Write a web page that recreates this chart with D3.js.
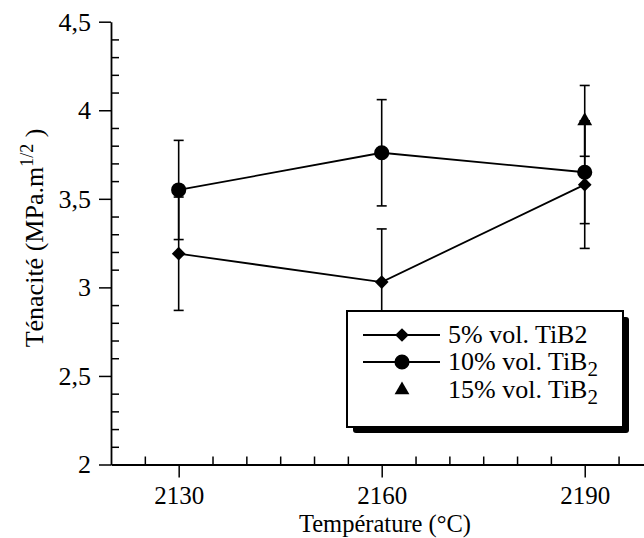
<!DOCTYPE html>
<html><head><meta charset="utf-8">
<script src="https://cdn.jsdelivr.net/npm/d3@7"></script>
<style>
html,body{margin:0;padding:0;background:#fff;}
svg, svg text{font-family:"Liberation Serif","Times New Roman",Times,serif !important;}
</style></head>
<body><svg id="c" width="644" height="538"></svg>
<script>
// ---- data ----
const temperatures = [2130, 2160, 2190];
const tic5 = [3.19, 3.03, 3.58];
const tic5Err = [0.32, 0.30, 0.36];
const tic10 = [3.55, 3.76, 3.65];
const tic10Err = [0.28, 0.30, 0.29];
const tic15Temp = [2190];
const tic15 = [3.94];
const tic15Err = [0.20];
const yTicks = [2, 2.5, 3, 3.5, 4, 4.5];
const xTicks = [2130, 2160, 2190];
const legendLabels = ["5% vol. TiB2", "10% vol. TiB", "15% vol. TiB"];

const FONT = '"Liberation Serif","Times New Roman",Times,serif';
const svg = d3.select("#c").attr("font-family", FONT);
const x = d3.scaleLinear().domain([2120, 2200]).range([111, 652.4]);
const y = d3.scaleLinear().domain([2, 4.5]).range([464.5, 21.7]);

const FS = 26;
// y axis
const yMinor = d3.range(20, 46).map(d => d / 10).filter(v => !yTicks.some(t => Math.abs(t - v) < 1e-9));
const gy = svg.append("g").attr("transform", "translate(111,0)");
gy.call(d3.axisLeft(y).tickValues(yTicks).tickSize(12).tickSizeOuter(0).tickPadding(8)
  .tickFormat(d => String(d).replace(".", ",")));
svg.append("g").attr("transform", "translate(111,0)")
  .call(d3.axisLeft(y).tickValues(yMinor).tickSize(-8).tickSizeOuter(0).tickFormat(""))
  .select(".domain").remove();
// x axis
const xMinor = d3.range(2125, 2200, 5).filter(v => !xTicks.includes(v));
const gx = svg.append("g").attr("transform", "translate(0,464.5)");
gx.call(d3.axisBottom(x).tickValues(xTicks).tickSize(13).tickSizeOuter(0).tickPadding(9)
  .tickFormat(d3.format("d")));
svg.append("g").attr("transform", "translate(0,464.5)")
  .call(d3.axisBottom(x).tickValues(xMinor).tickSize(-8).tickSizeOuter(0).tickFormat(""))
  .select(".domain").remove();

svg.selectAll("g").attr("font-family", FONT);
svg.selectAll(".domain").attr("stroke", "#000").attr("stroke-width", 1.8);
svg.selectAll(".tick line").attr("stroke", "#000").attr("stroke-width", 1.5);
svg.selectAll(".tick text").attr("font-size", FS).attr("fill", "#000").attr("font-family", FONT);
gx.selectAll(".tick text").attr("font-size", 25);

// axis titles
svg.append("text").attr("x", 385).attr("y", 532).attr("text-anchor", "middle")
  .attr("font-family", FONT).attr("font-size", 24.5).text("Température (°C)");
const yt = svg.append("text").attr("transform", "translate(43,238) rotate(-90)")
  .attr("text-anchor", "middle").attr("font-family", FONT).attr("font-size", FS);
yt.append("tspan").text("Ténacité (MPa.m");
yt.append("tspan").attr("font-size", 18).attr("dy", -10).text("1/2");
yt.append("tspan").attr("dy", 10).text(" )");

// error bars
function errBars(xs, vals, errs) {
  xs.forEach((t, i) => {
    const cx = x(t), y1 = y(vals[i] + errs[i]), y0 = y(vals[i] - errs[i]);
    svg.append("line").attr("x1", cx).attr("x2", cx).attr("y1", y1).attr("y2", y0)
      .attr("stroke", "#000").attr("stroke-width", 1.6);
    [y1, y0].forEach(yy => svg.append("line").attr("x1", cx - 5).attr("x2", cx + 5)
      .attr("y1", yy).attr("y2", yy).attr("stroke", "#000").attr("stroke-width", 1.6));
  });
}
errBars(temperatures, tic5, tic5Err);
errBars(temperatures, tic10, tic10Err);
errBars(tic15Temp, tic15, tic15Err);

// lines
const line = d3.line().x((d, i) => x(temperatures[i])).y(d => y(d));
[tic5, tic10].forEach(s => svg.append("path").attr("d", line(s))
  .attr("fill", "none").attr("stroke", "#000").attr("stroke-width", 1.8));

// markers
const diamond = d3.symbol().type(d3.symbolDiamond2).size(120);
const circle = d3.symbol().type(d3.symbolCircle).size(180);
const tri = d3.symbol().type(d3.symbolTriangle).size(95);
tic5.forEach((v, i) => svg.append("path").attr("d", diamond())
  .attr("transform", `translate(${x(temperatures[i])},${y(v)})`).attr("fill", "#000"));
tic10.forEach((v, i) => svg.append("path").attr("d", circle())
  .attr("transform", `translate(${x(temperatures[i])},${y(v)})`).attr("fill", "#000"));
tic15.forEach((v, i) => svg.append("path").attr("d", tri())
  .attr("transform", `translate(${x(tic15Temp[i])},${y(v)})`).attr("fill", "#000"));

// legend
const L = {x: 347, y: 311, w: 276, h: 116};
svg.append("rect").attr("x", L.x + 6).attr("y", L.y + 6).attr("width", L.w).attr("height", L.h)
  .attr("fill", "#000").attr("rx", 3);
svg.append("rect").attr("x", L.x).attr("y", L.y).attr("width", L.w).attr("height", L.h)
  .attr("fill", "#fff").attr("stroke", "#000").attr("stroke-width", 2);
const rows = [335, 362, 390];
const lsym = [diamond, circle, tri];
rows.forEach((ry, i) => {
  if (i < 2) svg.append("line").attr("x1", 363).attr("x2", 440).attr("y1", ry).attr("y2", ry)
    .attr("stroke", "#000").attr("stroke-width", 1.8);
  svg.append("path").attr("d", lsym[i]()).attr("transform", `translate(402,${ry})`).attr("fill", "#000");
  const t = svg.append("text").attr("x", 448).attr("y", ry + 8).attr("font-family", FONT).attr("font-size", 26);
  t.append("tspan").text(legendLabels[i]);
  if (i > 0) t.append("tspan").attr("dy", 6).attr("font-size", 21).text("2");
});
</script></body></html>
